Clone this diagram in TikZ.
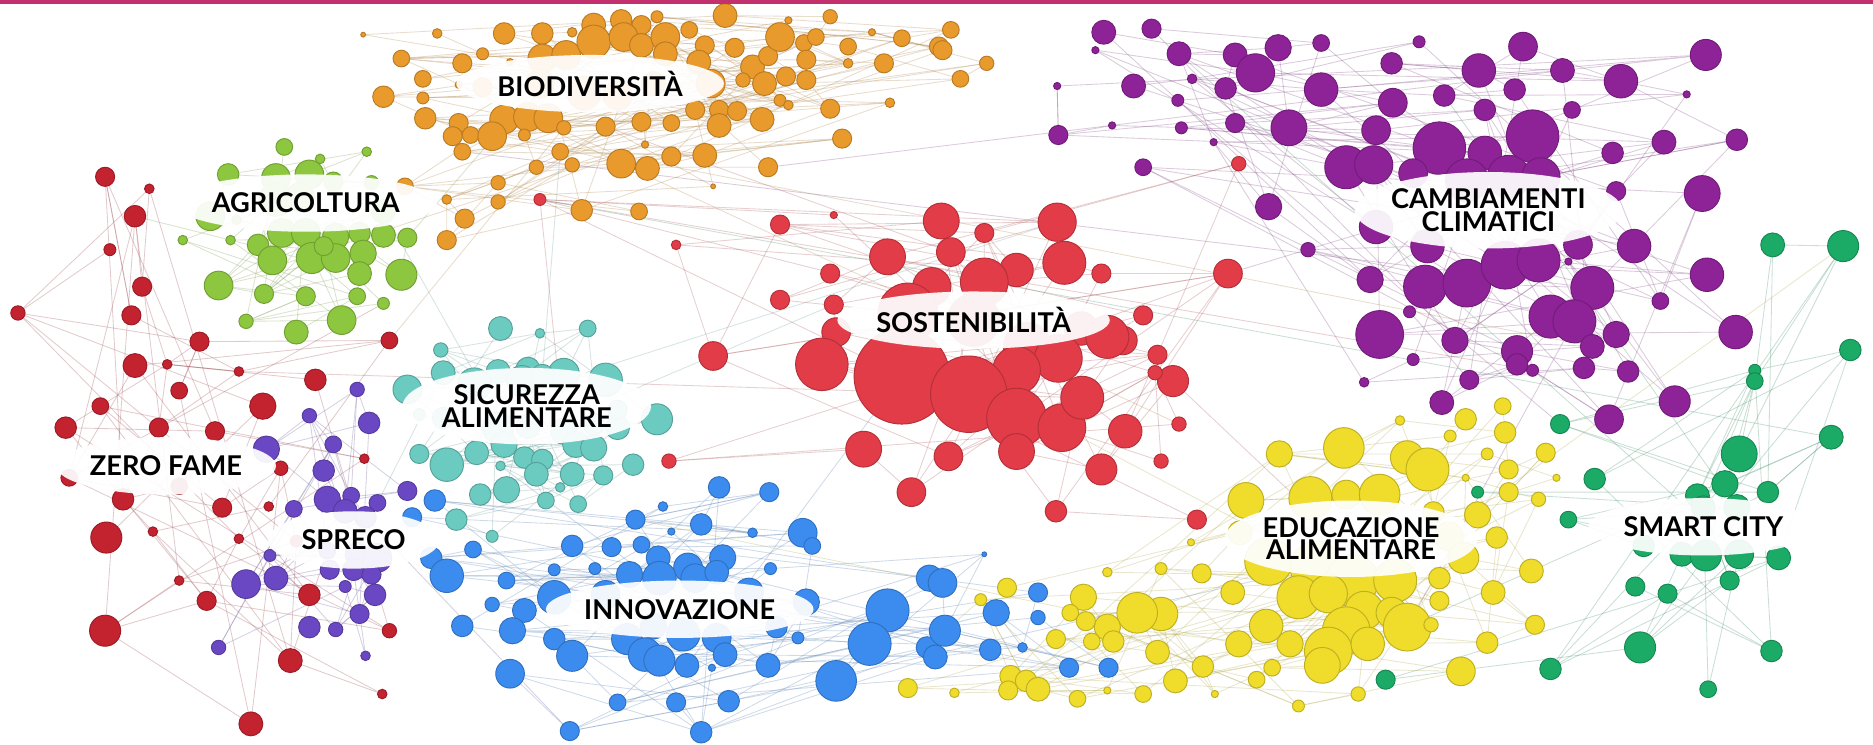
\documentclass[tikz,border=0pt]{standalone}
\usepackage{fontspec}
\setmainfont{Lato}
\usetikzlibrary{backgrounds,fadings}

\definecolor{orng}{HTML}{E99A2C}
\definecolor{lime}{HTML}{8DC73F}
\definecolor{teal}{HTML}{6CCBC1}
\definecolor{viol}{HTML}{6B48C3}
\definecolor{dred}{HTML}{C3222F}
\definecolor{crim}{HTML}{E13C47}
\definecolor{purp}{HTML}{8E2397}
\definecolor{blue}{HTML}{3C8CF0}
\definecolor{yelw}{HTML}{EFDC2B}
\definecolor{emer}{HTML}{1CAA67}
\definecolor{bar}{HTML}{C4306E}

\pgfdeclareradialshading{glowshade}{\pgfpointorigin}{color(0bp)=(white); color(28bp)=(white); color(50bp)=(black)}
\pgfdeclarefading{glow}{\pgfuseshading{glowshade}}

\tikzset{
  dot/.style={circle, inner sep=0pt, fill=#1, draw=#1!80!black, line width=.4pt},
  link/.style={draw=#1!50!gray, draw opacity=.3, line width=.35pt},
  tag/.style={font=\bfseries\fontsize{11.4}{9.4}\selectfont, align=center, inner sep=1pt},
  halo/.style={fill=white, fill opacity=.93, path fading=glow}
}

% one cluster of dots, named <prefix>1, <prefix>2, ...
\newcommand\cluster[3]{%
  \foreach \x/\y/\r [count=\i] in {#3} {%
    \node[dot=#2, minimum size=\r pt] (#1\i) at (\x,\y) {};
    \expandafter\xdef\csname N#1\endcsname{\i}%
  }%
}
% links inside one cluster
\newcommand\links[2]{%
  \pgfmathtruncatemacro\nn{\csname N#1\endcsname}%
  \foreach \i in {1,...,\nn} {%
    \pgfmathtruncatemacro\jj{random(max(1,\i-6),min(\nn,\i+6))}%
    \pgfmathtruncatemacro\kk{random(1,\nn)}%
    \draw[link=#2] (#1\i.center) -- (#1\jj.center) (#1\i.center) -- (#1\kk.center);
  }%
}

\begin{document}
\begin{tikzpicture}[x=0.5pt,y=-0.5pt]
\pgfmathsetseed{7}
\useasboundingbox (0,0) rectangle (1568,623);
\begin{scope}[on background layer]
  \fill[white] (0,0) rectangle (1568,623);
\end{scope}

% biodiversita
\cluster{o}{orng}{304/29/2, 366/28/4, 422/28/9, 454/28/9, 479/27/4, 497/21/10, 520/17/9, 537/21/8, 550/14/5, 607/13/10,
  660/17/3, 695/14/6, 730/27/3, 755/32/7, 786/39/8, 796/25/7, 789/42/8, 826/53/6, 804/66/7,
  336/49/7, 387/53/8, 404/45/5, 427/52/3, 454/49/12, 474/46/12, 497/35/14, 522/31/12, 537/38/10, 557/31/12,
  577/25/7, 557/45/10, 590/38/8, 585/52/10, 615/40/8, 630/56/10, 643/47/8, 653/31/12, 673/36/7, 683/31/7,
  675/50/8, 710/39/7, 710/53/4, 740/53/8, 354/66/7, 384/71/3, 321/81/9, 404/73/8, 452/70/12, 489/78/14,
  517/80/12, 547/70/10, 595/70/12, 622/67/6, 640/70/10, 658/64/8, 675/67/8, 653/84/5, 660/88/4, 695/91/8,
  745/86/4, 354/82/5, 356/99/9, 384/103/8, 422/100/12, 442/98/12, 459/99/12, 472/107/6, 507/106/8, 537/102/8,
  562/103/7, 582/92/8, 602/92/8, 617/93/8, 602/105/10, 638/100/10, 379/114/8, 394/113/7, 412/114/12, 439/113/5,
  469/127/7, 387/127/7, 520/137/12, 542/141/10, 562/131/8, 590/130/10, 540/121/3, 643/140/8, 705/116/8,
  449/140/6, 479/138/6, 417/153/6, 417/169/6, 339/156/7, 374/167/4, 389/183/8, 374/201/8, 487/176/9, 535/177/7, 597/156/2}

% agricoltura
\cluster{g}{lime}{238/123/7, 268/133/4, 307/127/4, 191/146/9, 231/149/12, 259/146/12, 279/152/8, 311/153/6, 176/181/12,
  231/167/14, 251/165/12, 321/177/10, 198/184/4, 153/201/4, 193/201/4, 216/205/9, 236/195/12, 256/195/12,
  281/198/11, 301/195/9, 321/197/10, 341/199/8, 228/218/12, 261/216/13, 281/216/12, 304/212/11, 336/230/13,
  183/239/12, 221/246/8, 256/248/8, 301/229/10, 299/248/7, 321/254/5, 206/269/6, 286/268/12, 248/278/10, 271/206/8}

% zero fame
\cluster{d}{dred}{88/148/8, 125/158/4, 113/181/9, 92/209/5, 119/240/8, 110/264/8, 15/262/6, 167/286/8, 326/285/7,
  113/306/10, 140/305/4, 200/311/4, 264/318/9, 150/327/7, 84/340/7, 55/358/9, 133/358/8, 180/361/8, 220/340/11,
  305/384/4, 58/400/7, 103/418/9, 150/407/7, 235/392/6, 186/425/8, 225/424/4, 89/450/13, 128/445/4, 200/451/4,
  248/453/5, 150/486/4, 173/503/8, 259/498/9, 88/528/13, 243/553/10, 326/528/6, 320/581/4, 210/606/10}

% sicurezza alimentare
\cluster{t}{teal}{419/275/10, 452/279/4, 492/275/7, 369/293/6, 371/312/10, 417/311/10, 442/309/10, 472/313/13, 507/318/14,
  341/326/12, 397/322/14, 437/319/13, 454/315/10, 351/347/5, 371/350/9, 417/358/13, 442/357/10, 472/361/11,
  497/355/9, 517/358/10, 550/351/13, 517/343/8, 351/380/8, 374/389/14, 399/379/10, 422/372/11, 439/383/9,
  454/385/9, 482/372/11, 497/375/11, 530/389/9, 419/390/4, 449/397/10, 479/397/10, 505/398/8, 424/410/11,
  402/414/9, 469/408/4, 457/419/7, 484/422/7, 382/435/9, 412/449/5}

% spreco
\cluster{v}{viol}{299/326/6, 259/348/6, 309/354/9, 223/376/11, 279/372/7, 271/394/9, 341/411/8, 274/418/11, 294/415/7,
  316/421/7, 246/426/7, 289/428/10, 306/433/9, 226/465/5, 274/461/7, 299/464/10, 316/467/12, 231/484/10,
  206/489/12, 276/477/8, 296/477/9, 311/481/8, 289/491/5, 314/498/9, 301/514/8, 259/525/9, 281/527/6,
  183/542/6, 306/549/4}

% sostenibilita
\cluster{r}{crim}{653/188/8, 698/180/3, 566/205/4, 452/167/5, 788/185/15, 824/195/8, 885/186/16, 796/211/12, 851/226/14,
  891/220/18, 922/229/8, 743/215/15, 695/229/8, 824/236/20, 780/240/16, 760/262/25, 815/268/22, 653/251/8,
  698/255/8, 700/278/12, 860/290/20, 905/275/14, 940/285/12, 957/264/8, 927/282/18, 969/297/8, 886/300/20,
  851/310/20, 688/305/22, 755/315/40, 811/330/32, 851/350/25, 889/358/20, 906/333/18, 942/361/14, 982/319/13,
  967/312/6, 987/355/6, 972/386/6, 922/393/13, 851/378/15, 794/382/12, 723/376/15, 763/412/12, 884/428/9,
  1002/435/8, 560/386/6, 597/298/12, 1028/229/12, 1037/137/6}

% cambiamenti climatici
\cluster{p}{purp}{924/27/10, 964/24/8, 917/42/3, 987/45/10, 1034/46/10, 1070/40/11, 1106/36/7, 1051/61/16, 949/72/10,
  998/66/4, 1026/74/9, 986/84/5, 1106/75/14, 1165/53/9, 1188/35/5, 1238/59/14, 1275/39/12, 1308/59/10,
  1268/75/9, 1357/68/14, 1428/46/13, 1209/80/9, 1243/92/9, 1316/92/7, 1412/79/3, 885/72/3, 1166/86/12,
  1079/107/15, 886/113/8, 931/105/3, 989/107/5, 1034/103/8, 1016/119/3, 1152/109/12, 1127/140/18, 1150/138/16,
  1205/124/22, 1243/128/14, 1283/114/22, 1183/145/12, 1228/151/18, 1263/148/18, 1290/148/16, 1393/119/10,
  1454/117/9, 1350/128/9, 1353/160/8, 1425/162/15, 957/140/7, 1062/173/11, 1152/190/14, 1195/206/14,
  1321/205/12, 1368/206/14, 1095/209/6, 1147/234/11, 1193/240/18, 1228/237/20, 1260/222/20, 1288/218/18,
  1333/241/18, 1429/230/14, 1313/219/3, 1180/261/5, 1390/252/7, 1298/265/18, 1318/269/18, 1155/280/20,
  1218/285/11, 1270/294/13, 1353/280/11, 1333/290/10, 1453/278/14, 1326/308/9, 1183/301/5, 1283/310/5,
  1363/311/9, 1142/320/4, 1207/337/10, 1230/318/8, 1347/351/12, 1402/336/13, 1270/305/9}

% innovazione
\cluster{b}{blue}{364/419/9, 345/433/8, 602/408/9, 644/412/8, 555/424/4, 532/435/8, 587/439/9, 630/446/4, 562/445/3,
  672/446/12, 680/457/7, 479/457/9, 512/458/8, 537/456/7, 396/460/7, 361/467/9, 551/467/10, 576/475/12,
  605/467/11, 374/482/14, 464/477/5, 498/476/5, 527/481/11, 552/484/14, 582/484/12, 600/479/10, 645/476/5,
  424/486/7, 464/500/14, 507/498/12, 627/496/12, 675/504/11, 439/511/10, 412/506/6, 387/524/9, 429/528/11,
  464/535/9, 479/549/13, 525/535/13, 547/524/11, 572/531/14, 600/534/12, 650/525/9, 668/534/5, 540/548/14,
  552/553/13, 575/557/10, 607/548/10, 643/557/10, 596/559/3, 427/564/12, 517/588/7, 566/588/8, 610/587/9,
  477/612/8, 587/613/9, 743/511/18, 728/539/18, 700/570/17, 776/542/9, 778/484/11, 789/488/12, 834/513/11,
  869/496/8, 869/517/6, 791/528/13, 829/544/9, 856/542/4, 895/559/8, 928/559/8, 783/550/10, 824/464/2}

% educazione alimentare
\cluster{y}{yelw}{1258/340/7, 1227/351/9, 1172/352/4, 1260/362/9, 1214/365/5, 1125/375/17, 1071/380/11, 1178/383/14,
  1195/393/18, 1245/380/5, 1294/379/8, 1263/393/8, 1227/400/3, 1303/400/3, 1263/412/8, 1288/418/6, 1043/419/15,
  1097/417/18, 1127/414/12, 1155/414/17, 1200/429/9, 1237/431/11, 1038/446/10, 1213/449/12, 1253/450/9,
  997/454/3, 1062/470/20, 1102/475/22, 1132/486/22, 1168/486/18, 1225/467/13, 1282/478/10, 972/476/5,
  927/479/4, 1006/480/8, 1205/484/9, 1250/496/10, 1032/496/10, 1205/503/8, 1087/500/18, 1112/497/16,
  1142/511/16, 1165/513/13, 1178/525/20, 1127/528/20, 1198/523/6, 1060/524/14, 1285/523/8, 1037/539/11,
  1080/539/11, 1112/545/20, 1145/539/14, 1245/538/9, 1107/557/15, 1065/559/7, 1223/562/12, 1052/569/7,
  984/570/10, 1017/581/3, 1137/581/6, 1087/591/5, 972/514/14, 1007/558/9, 952/513/17, 969/546/10, 927/525/11,
  907/500/11, 896/513/7, 909/520/8, 884/535/8, 932/537/9, 914/537/7, 843/492/8, 821/502/5, 799/580/4,
  846/566/9, 859/570/9, 869/577/10, 902/585/7, 957/581/7, 927/578/3, 844/578/8, 760/576/8}

% smart city
\cluster{e}{emer}{1484/205/10, 1543/206/13, 1549/293/9, 1469/310/5, 1469/319/7, 1306/355/8, 1533/366/10, 1456/380/15,
  1335/401/9, 1444/405/11, 1421/415/10, 1480/412/9, 1237/412/5, 1313/435/7, 1426/425/10, 1454/425/11,
  1376/457/9, 1408/464/10, 1428/465/13, 1456/464/12, 1489/467/10, 1369/491/8, 1396/497/8, 1448/486/8,
  1373/542/13, 1483/545/9, 1298/560/9, 1160/569/8, 1430/577/7}

\begin{scope}[on background layer]
  \links{o}{orng} \links{g}{lime} \links{d}{dred} \links{t}{teal} \links{v}{viol}
  \links{r}{crim} \links{p}{purp} \links{b}{blue} \links{y}{yelw} \links{e}{emer}
  \foreach \a/\b/\c in {o/p/orng, o/p/purp, o/r/crim, o/r/orng, o/g/lime, o/g/orng, o/t/teal, r/p/purp, r/p/crim,
      r/y/yelw, r/y/crim, r/t/crim, r/t/teal, r/b/blue, r/d/crim, r/e/emer, p/e/emer, p/e/purp, p/y/purp,
      y/e/emer, y/e/yelw, y/b/yelw, y/b/blue, b/t/blue, b/v/viol, d/v/viol, d/v/dred, d/g/dred, g/t/teal,
      t/v/teal, o/d/orng, b/y/yelw, t/r/teal, g/d/lime, p/o/purp, e/p/emer} {
    \edef\na{\csname N\a\endcsname}\edef\nb{\csname N\b\endcsname}
    \pgfmathtruncatemacro\ia{random(1,\na)}
    \pgfmathtruncatemacro\ib{random(1,\nb)}
    \draw[link=\c] (\a\ia.center) -- (\b\ib.center);
  }
\end{scope}

% white halos behind the labels
\fill[halo] (494,70) ellipse [x radius=112, y radius=24];
\fill[halo] (256,170) ellipse [x radius=110, y radius=24];
\fill[halo] (815,268) ellipse [x radius=114, y radius=24];
\fill[halo] (1246,176) ellipse [x radius=112, y radius=32];
\fill[halo] (441,340) ellipse [x radius=104, y radius=32];
\fill[halo] (139,390) ellipse [x radius=92, y radius=24];
\fill[halo] (296,452) ellipse [x radius=72, y radius=24];
\fill[halo] (569,510) ellipse [x radius=112, y radius=24];
\fill[halo] (1131,451) ellipse [x radius=106, y radius=32];
\fill[halo] (1426,441) ellipse [x radius=96, y radius=24];

\node[tag] (lbio) at (494,70) {BIODIVERSITÀ};
\node[tag] (lagri) at (256,170) {AGRICOLTURA};
\node[tag] (lsost) at (815,268) {SOSTENIBILITÀ};
\node[tag] (lcamb) at (1246,176) {CAMBIAMENTI\\CLIMATICI};
\node[tag] (lsicu) at (441,340) {SICUREZZA\\ALIMENTARE};
\node[tag] (lzero) at (139,390) {ZERO FAME};
\node[tag] (lspre) at (296,452) {SPRECO};
\node[tag] (linno) at (569,510) {INNOVAZIONE};
\node[tag] (leduc) at (1131,451) {EDUCAZIONE\\ALIMENTARE};
\node[tag] (lsmart) at (1426,441) {SMART CITY};

\fill[bar] (0,0) rectangle (1568,3);
\end{tikzpicture}
\end{document}
